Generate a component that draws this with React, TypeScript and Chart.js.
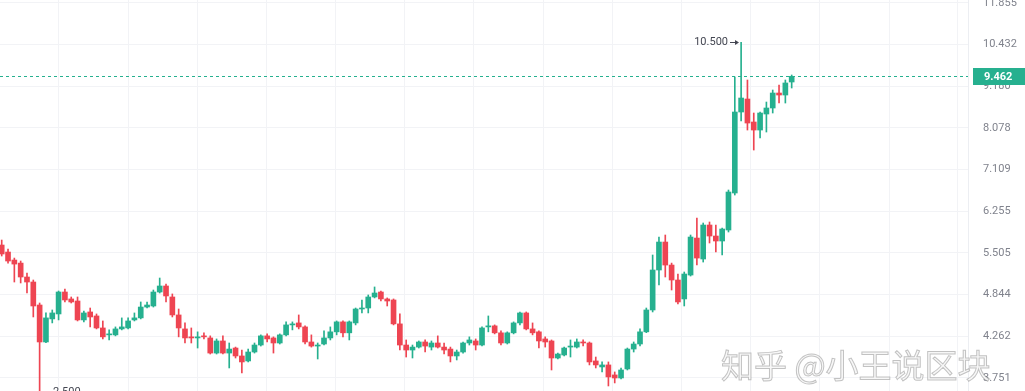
import React, { useEffect, useRef } from "react";
import { Chart, registerables } from "chart.js";

Chart.register(...registerables);

// OHLC values (one entry per candle)
const opens = [
  5.640, 5.520, 5.386, 5.336, 5.113, 5.035, 4.692, 4.189, 4.496, 4.565,
  4.883, 4.780, 4.750, 4.482, 4.593, 4.537, 4.373, 4.281, 4.281, 4.360,
  4.373, 4.482, 4.510, 4.663, 4.678, 4.883, 4.974, 4.809, 4.551, 4.360,
  4.255, 4.241, 4.268, 4.241, 4.049, 4.202, 4.049, 4.112, 4.013, 3.952,
  4.062, 4.150, 4.268, 4.241, 4.176, 4.281, 4.414, 4.441, 4.387, 4.189,
  4.137, 4.163, 4.241, 4.321, 4.455, 4.308, 4.441, 4.635, 4.649, 4.809,
  4.883, 4.780, 4.765, 4.428, 4.150, 4.087, 4.124, 4.189, 4.124, 4.176,
  4.124, 4.099, 4.013, 4.062, 4.176, 4.202, 4.150, 4.387, 4.401, 4.308,
  4.176, 4.308, 4.441, 4.579, 4.360, 4.321, 4.228, 4.202, 3.988, 4.025,
  4.124, 4.124, 4.189, 4.176, 3.952, 3.880, 3.904, 3.786, 3.751, 3.856,
  4.099, 4.163, 4.321, 4.621, 5.224, 5.692, 5.304, 5.066, 4.780, 5.144,
  5.762, 5.403, 5.997, 5.798, 5.710, 5.906, 6.616, 8.482, 8.827, 8.226,
  8.026, 8.430, 8.587, 8.991, 8.936, 9.300,
];
const highs = [
  5.727, 5.571, 5.419, 5.370, 5.176, 5.066, 4.721, 4.579, 4.621, 4.898,
  4.928, 4.809, 4.809, 4.607, 4.649, 4.565, 4.468, 4.347, 4.387, 4.510,
  4.510, 4.579, 4.736, 4.736, 4.913, 5.097, 5.004, 4.854, 4.635, 4.441,
  4.373, 4.321, 4.308, 4.268, 4.228, 4.268, 4.176, 4.124, 4.087, 4.099,
  4.176, 4.281, 4.294, 4.255, 4.294, 4.455, 4.455, 4.551, 4.401, 4.281,
  4.176, 4.334, 4.387, 4.468, 4.468, 4.468, 4.649, 4.765, 4.839, 4.959,
  4.898, 4.795, 4.780, 4.565, 4.215, 4.150, 4.202, 4.215, 4.202, 4.268,
  4.176, 4.124, 4.087, 4.189, 4.255, 4.228, 4.387, 4.537, 4.414, 4.334,
  4.321, 4.455, 4.593, 4.593, 4.441, 4.334, 4.255, 4.215, 4.049, 4.124,
  4.215, 4.228, 4.215, 4.189, 4.000, 3.940, 3.940, 3.821, 3.868, 4.112,
  4.189, 4.360, 4.649, 5.470, 5.780, 5.816, 5.336, 5.160, 5.192, 5.816,
  6.127, 6.034, 6.053, 5.997, 5.942, 6.677, 9.444, 10.500, 9.357, 8.456,
  8.482, 8.746, 9.074, 9.215, 9.357, 9.502,
];
const lows = [
  5.453, 5.336, 5.035, 5.020, 4.868, 4.523, 2.500, 4.180, 4.441, 4.482,
  4.736, 4.721, 4.468, 4.455, 4.387, 4.360, 4.228, 4.215, 4.268, 4.347,
  4.360, 4.468, 4.496, 4.649, 4.663, 4.868, 4.736, 4.523, 4.255, 4.176,
  4.176, 4.112, 4.228, 4.037, 4.037, 4.037, 3.868, 3.988, 3.809, 3.940,
  4.049, 4.137, 4.189, 4.049, 4.163, 4.268, 4.347, 4.360, 4.163, 4.124,
  3.976, 4.150, 4.215, 4.281, 4.255, 4.215, 4.414, 4.579, 4.579, 4.795,
  4.750, 4.678, 4.414, 4.087, 4.000, 3.988, 4.112, 4.062, 4.087, 4.112,
  4.037, 3.940, 3.964, 4.049, 4.150, 4.087, 4.137, 4.321, 4.294, 4.150,
  4.163, 4.294, 4.414, 4.347, 4.281, 4.112, 4.124, 3.844, 3.976, 4.013,
  4.000, 4.112, 4.137, 3.904, 3.868, 3.821, 3.660, 3.694, 3.740, 3.844,
  4.062, 4.137, 4.310, 4.593, 4.989, 5.113, 4.913, 4.706, 4.678, 5.128,
  5.304, 5.353, 5.675, 5.520, 5.470, 5.870, 6.575, 8.251, 8.026, 7.548,
  7.831, 7.977, 8.456, 8.719, 8.719, 9.130,
];
const closes = [
  5.487, 5.370, 5.320, 5.113, 5.035, 4.678, 4.189, 4.510, 4.579, 4.883,
  4.765, 4.736, 4.482, 4.579, 4.523, 4.373, 4.255, 4.294, 4.360, 4.387,
  4.468, 4.510, 4.663, 4.692, 4.883, 4.974, 4.824, 4.551, 4.373, 4.241,
  4.241, 4.255, 4.255, 4.049, 4.202, 4.049, 4.099, 4.013, 3.940, 4.062,
  4.150, 4.268, 4.228, 4.176, 4.281, 4.414, 4.428, 4.387, 4.189, 4.137,
  4.150, 4.241, 4.321, 4.455, 4.308, 4.455, 4.635, 4.649, 4.809, 4.868,
  4.780, 4.750, 4.428, 4.150, 4.087, 4.124, 4.189, 4.137, 4.176, 4.124,
  4.087, 4.013, 4.062, 4.176, 4.215, 4.150, 4.373, 4.401, 4.308, 4.176,
  4.308, 4.441, 4.579, 4.360, 4.308, 4.202, 4.189, 3.988, 4.037, 4.112,
  4.137, 4.189, 4.176, 3.940, 3.904, 3.904, 3.763, 3.751, 3.844, 4.099,
  4.163, 4.321, 4.621, 5.224, 5.692, 5.304, 5.066, 4.736, 5.160, 5.780,
  5.419, 5.997, 5.798, 5.710, 5.924, 6.636, 8.482, 8.854, 8.200, 8.026,
  8.456, 8.587, 8.991, 8.936, 9.272, 9.462,
];

const yTicks = [3.751, 4.262, 4.844, 5.505, 6.255, 7.109, 8.078, 9.18, 10.432, 11.855];
const xGrid = [9, 20, 31, 41.9, 52.8, 63.8, 74.7, 85.7, 96.6, 107.5, 118.5, 129.4, 140.4, 151.3];
const lastPrice = 9.462;
const watermark = "知乎 @小王说区块";

const UP = "#26b08f";
const DOWN = "#ee4552";
const FONT = "Roboto, 'Noto Sans', sans-serif";

export default function App() {
  const ref = useRef<HTMLCanvasElement | null>(null);

  useEffect(() => {
    document.body.style.margin = "0";
    const canvas = ref.current;
    if (!canvas) return;
    const n = opens.length;
    const idx = opens.map((_, i) => i);
    const colors = idx.map((i) => (closes[i] >= opens[i] ? UP : DOWN));
    const wickData = idx.map((i) => ({ x: i, y: [lows[i], highs[i]] }));
    const bodyData = idx.map((i) => ({
      x: i,
      y: [Math.min(opens[i], closes[i]), Math.max(opens[i], closes[i])],
    }));

    let hiIdx = 0;
    let loIdx = 0;
    for (let i = 0; i < n; i++) {
      if (highs[i] > highs[hiIdx]) hiIdx = i;
      if (lows[i] < lows[loIdx]) loIdx = i;
    }

    const overlay = {
      id: "overlay",
      beforeDatasetsDraw(chart: any) {
        const { ctx, chartArea, scales } = chart;
        const py = Math.round(scales.y.getPixelForValue(lastPrice)) + 0.5;
        ctx.save();
        ctx.strokeStyle = UP;
        ctx.lineWidth = 1;
        ctx.setLineDash([3, 3]);
        ctx.beginPath();
        ctx.moveTo(chartArea.left, py);
        ctx.lineTo(chartArea.right, py);
        ctx.stroke();
        ctx.restore();
      },
      afterDraw(chart: any) {
        const { ctx, chartArea, scales } = chart;
        const x = scales.x;
        const y = scales.y;
        ctx.save();
        // last price box
        const py = Math.round(y.getPixelForValue(lastPrice));
        ctx.fillStyle = UP;
        ctx.fillRect(chartArea.right + 5, py - 8, 52, 17);
        ctx.fillStyle = "#ffffff";
        ctx.font = `bold 11px ${FONT}`;
        ctx.textAlign = "left";
        ctx.textBaseline = "middle";
        ctx.fillText(lastPrice.toFixed(3), chartArea.right + 16, py + 1);

        // high marker
        ctx.fillStyle = "#434651";
        ctx.strokeStyle = "#434651";
        ctx.lineWidth = 1;
        ctx.font = `11px ${FONT}`;
        const hx = Math.round(x.getPixelForValue(hiIdx));
        const hy = Math.round(y.getPixelForValue(highs[hiIdx]));
        ctx.textAlign = "right";
        ctx.fillText(highs[hiIdx].toFixed(3), hx - 13, hy);
        ctx.beginPath();
        ctx.moveTo(hx - 11, hy + 0.5);
        ctx.lineTo(hx - 3, hy + 0.5);
        ctx.stroke();
        ctx.beginPath();
        ctx.moveTo(hx - 2, hy + 0.5);
        ctx.lineTo(hx - 6, hy - 2);
        ctx.lineTo(hx - 6, hy + 3);
        ctx.closePath();
        ctx.fill();

        // low marker
        const lx = Math.round(x.getPixelForValue(loIdx));
        const ly = Math.min(Math.round(y.getPixelForValue(lows[loIdx])), chartArea.bottom + 1);
        ctx.textAlign = "left";
        ctx.fillText(lows[loIdx].toFixed(3), lx + 13, ly);
        ctx.beginPath();
        ctx.moveTo(lx + 3, ly + 0.5);
        ctx.lineTo(lx + 11, ly + 0.5);
        ctx.stroke();

        // watermark
        ctx.font = `33px "Noto Sans CJK SC", sans-serif`;
        ctx.textAlign = "left";
        ctx.textBaseline = "alphabetic";
        ctx.fillStyle = "rgba(246,246,246,0.92)";
        ctx.strokeStyle = "rgba(110,110,110,0.4)";
        ctx.lineWidth = 1;
        ctx.fillText(watermark, 721, 378);
        ctx.strokeText(watermark, 721, 378);
        ctx.restore();
      },
    };

    const chart = new Chart(canvas, {
      type: "bar",
      data: {
        datasets: [
          {
            data: wickData as any,
            backgroundColor: colors,
            barThickness: 1,
            grouped: false,
            order: 2,
          } as any,
          {
            data: bodyData as any,
            backgroundColor: colors,
            barThickness: 5,
            minBarLength: 1,
            grouped: false,
            order: 1,
          } as any,
        ],
      },
      options: {
        animation: false,
        responsive: false,
        maintainAspectRatio: false,
        layout: { padding: 0 },
        plugins: {
          legend: { display: false },
          tooltip: { enabled: false },
        },
        scales: {
          x: {
            type: "linear",
            min: -0.27,
            max: 152.9,
            offset: false,
            afterBuildTicks: (s: any) => {
              s.ticks = xGrid.map((v) => ({ value: v }));
            },
            afterFit: (s: any) => {
              s.height = 0;
              s.paddingLeft = 0;
              s.paddingRight = 0;
            },
            grid: { color: "#f2f3f6", drawTicks: false, offset: false },
            border: { display: false },
            ticks: { display: false },
          },
          y: {
            type: "logarithmic",
            position: "right",
            min: 3.604,
            max: 11.96,
            afterBuildTicks: (s: any) => {
              s.ticks = yTicks.map((v) => ({ value: v }));
            },
            afterFit: (s: any) => {
              s.width = 57;
              s.paddingTop = 0;
              s.paddingBottom = 0;
            },
            grid: { color: "#f2f3f6", drawTicks: false },
            border: { display: true, color: "#eceef2" },
            ticks: {
              padding: 15,
              autoSkip: false,
              color: "#80838d",
              font: { family: FONT, size: 11 },
              callback: (v: any) => Number(v).toFixed(3),
            },
          },
        },
      } as any,
      plugins: [overlay],
    });
    return () => chart.destroy();
  }, []);

  return (
    <div style={{ width: 1025, height: 391, position: "relative", background: "#ffffff" }}>
      <canvas ref={ref} width={1025} height={391} style={{ width: 1025, height: 391, display: "block" }} />
    </div>
  );
}
